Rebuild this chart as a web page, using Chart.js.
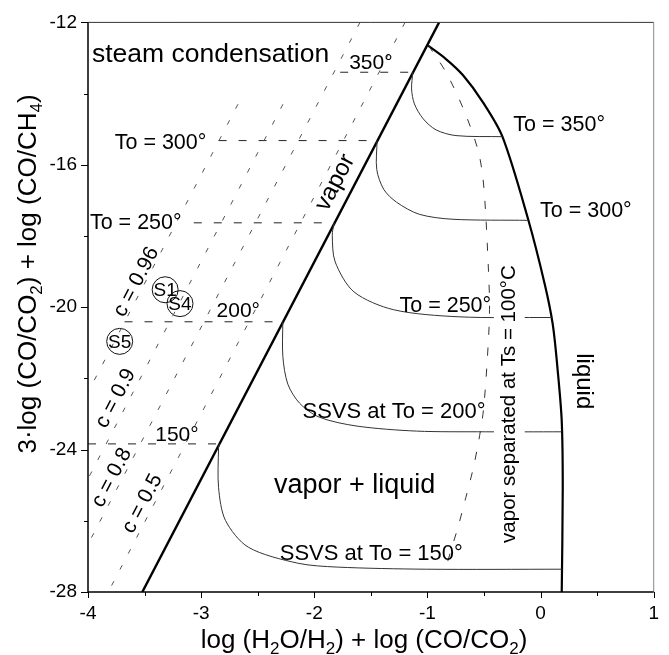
<!DOCTYPE html>
<html>
<head>
<meta charset="utf-8">
<script src="https://cdn.jsdelivr.net/npm/chart.js@4.4.1/dist/chart.umd.min.js"></script>
<style>
  html, body { margin: 0; padding: 0; background: #fff; }
  #wrap { width: 669px; height: 655px; }
</style>
</head>
<body>
<div id="wrap"><canvas id="phaseChart" width="669" height="655"></canvas></div>
<script>
const FONT = '"Liberation Sans", Arial, Helvetica, sans-serif';

// labelled ticks
const xTicks = [-4, -3, -2, -1, 0, 1];
const yTicks = [-28, -24, -20, -16, -12];

// vapor boundary (straight)
const vaporX = [-3.52, -0.897];
const vaporY = [-28, -12];

// liquid boundary, critical point down to the axis
const liquidX = [-1.0, -0.836, -0.687, -0.512, -0.337, -0.110, 0.038, 0.108, 0.152, 0.187, 0.196, 0.187];
const liquidY = [-12.64, -13.03, -13.48, -14.23, -15.21, -17.53, -19.37, -20.49, -21.80, -23.20, -25.07, -28];

// To isotherms in the steam condensation field
const isoTemps = [350, 300, 250, 200, 150];
const isoY = [-13.40, -15.32, -17.63, -20.41, -23.84];
const isoStartX = [-1.771, -2.846, -3.065, -3.677, -4];
const isoEndX = [-1.129, -1.445, -1.825, -2.278, -2.839];

// SSVS curves
const ssvs350X = [-1.129, -1.14, -1.115, -1.037, -0.923, -0.748, -0.337];
const ssvs350Y = [-13.40, -13.87, -14.29, -14.71, -15.02, -15.18, -15.21];
const ssvs300X = [-1.445, -1.448, -1.386, -1.273, -1.072, -0.774, -0.110];
const ssvs300Y = [-15.32, -16.13, -16.69, -17.05, -17.39, -17.53, -17.56];
const ssvs250X = [-1.825, -1.841, -1.815, -1.649, -1.30, -0.722, 0.10];
const ssvs250Y = [-17.63, -17.98, -18.73, -19.57, -20.07, -20.27, -20.29];
const ssvs200X = [-2.278, -2.278, -2.234, -2.129, -1.955, -1.622, -1.098, -0.486, 0.187];
const ssvs200Y = [-20.41, -21.38, -22.16, -22.70, -23.09, -23.34, -23.48, -23.50, -23.50];
const ssvs150X = [-2.839, -2.846, -2.846, -2.785, -2.584, -2.147, -1.797, -1.01, 0.187];
const ssvs150Y = [-23.84, -23.95, -25.07, -25.99, -26.74, -27.19, -27.30, -27.36, -27.36];

// vapor separated at Ts = 100 C
const sepX = [-0.993, -0.836, -0.678, -0.556, -0.512, -0.486, -0.460, -0.451, -0.460, -0.503, -0.547, -0.600, -0.661, -0.731, -0.818, -0.836];
const sepY = [-12.64, -13.40, -14.46, -15.55, -16.30, -17.33, -19.01, -19.93, -20.88, -22.83, -23.76, -24.59, -25.35, -26.19, -27.11, -27.36];

// lines of constant c
const cValues = [0.5, 0.8, 0.9, 0.96];
const cTopX = [-1.198, -1.596, -2.277, -2.675];
const cTopY = [-12, -12, -14.3, -14.3];
const cBotX = [-3.821, -4, -4, -4];
const cBotY = [-28, -26.66, -24.82, -22.39];

// samples
const sampleNames = ['S1', 'S4', 'S5'];
const sampleX = [-3.318, -3.187, -3.72];
const sampleY = [-19.51, -19.90, -20.96];

function pts(xs, ys) {
    return xs.map((v, i) => ({ x: v, y: ys[i] }));
}

function line(data, opts) {
    return Object.assign({
        data: data,
        showLine: true,
        pointRadius: 0,
        borderColor: '#222',
        borderWidth: 1,
        tension: 0,
        fill: false
    }, opts);
}

const datasets = [];

cValues.forEach((c, i) => {
    datasets.push(line(pts([cTopX[i], cBotX[i]], [cTopY[i], cBotY[i]]), {
        borderColor: '#555', borderDash: [5, 13]
    }));
});

isoTemps.forEach((t, i) => {
    datasets.push(line(pts([isoStartX[i], isoEndX[i]], [isoY[i], isoY[i]]), {
        borderColor: '#222', borderDash: [8, 12]
    }));
});

[[ssvs350X, ssvs350Y], [ssvs300X, ssvs300Y], [ssvs250X, ssvs250Y],
 [ssvs200X, ssvs200Y], [ssvs150X, ssvs150Y]].forEach(([xs, ys]) => {
    datasets.push(line(pts(xs, ys), { borderColor: '#333', tension: 0.3 }));
});

datasets.push(line(pts(sepX, sepY), { borderColor: '#333', borderDash: [8, 13], tension: 0.3 }));
datasets.push(line(pts(vaporX, vaporY), { borderColor: '#000', borderWidth: 2.4 }));
datasets.push(line(pts(liquidX, liquidY), { borderColor: '#000', borderWidth: 2.2, tension: 0.3 }));

datasets.push({
    data: pts(sampleX, sampleY),
    showLine: false,
    pointStyle: 'circle',
    pointRadius: 13,
    pointBorderWidth: 1,
    pointBorderColor: '#111',
    pointBackgroundColor: 'rgba(0,0,0,0)'
});

// text placed on the diagram (data coordinates)
const notes = [
    { text: 'steam condensation', x: -3.965, y: -13.12, size: 26.5 },
    { text: 'To = 300°', x: -3.764, y: -15.57, size: 21.5 },
    { text: 'To = 250°', x: -3.983, y: -17.81, size: 21.5 },
    { text: '350°', x: -1.692, y: -13.31, size: 21 },
    { text: '200°', x: -2.864, y: -20.27, size: 21 },
    { text: '150°', x: -3.406, y: -23.76, size: 21 },
    { text: 'To = 350°', x: -0.241, y: -15.04, size: 21.5 },
    { text: 'To = 300°', x: -0.005, y: -17.47, size: 21.5 },
    { text: 'To = 250°', x: -1.247, y: -20.13, size: 21.5 },
    { text: 'SSVS at To = 200°', x: -0.486, y: -23.11, size: 22, align: 'right' },
    { text: 'SSVS at To = 150°', x: -0.687, y: -27.11, size: 22, align: 'right' },
    { text: 'vapor + liquid', x: -2.357, y: -25.21, size: 27 },
    { text: 'vapor', x: -1.815, y: -16.5, size: 24, angle: -62.4, align: 'center', base: 'middle' },
    { text: 'liquid', x: 0.379, y: -22.08, size: 24, angle: 90, align: 'center', base: 'middle' },
    { text: 'c = 0.96', x: -3.572, y: -19.29, size: 21, angle: -62.4, align: 'center', base: 'middle' },
    { text: 'c = 0.9', x: -3.755, y: -22.56, size: 21, angle: -62.4, align: 'center', base: 'middle' },
    { text: 'c = 0.8', x: -3.79, y: -24.79, size: 21, angle: -62.4, align: 'center', base: 'middle' },
    { text: 'c = 0.5', x: -3.519, y: -25.52, size: 21, angle: -62.4, align: 'center', base: 'middle' },
    { text: 'vapor separated at Ts = 100°C', x: -0.276, y: -22.72, size: 20.5, angle: -90, align: 'center', base: 'middle', bg: true }
];

// draws text made of normal and subscript parts, centred on the origin
function drawRich(ctx, parts, size) {
    const sub = Math.round(size * 0.66);
    let total = 0;
    parts.forEach(p => {
        ctx.font = (p.sub ? sub : size) + 'px ' + FONT;
        p.w = ctx.measureText(p.t).width;
        total += p.w;
    });
    let cx = -total / 2;
    parts.forEach(p => {
        ctx.font = (p.sub ? sub : size) + 'px ' + FONT;
        ctx.fillText(p.t, cx, p.sub ? size * 0.22 : 0);
        cx += p.w;
    });
}

const xTitle = [
    { t: 'log (H' }, { t: '2', sub: true }, { t: 'O/H' }, { t: '2', sub: true },
    { t: ') + log (CO/CO' }, { t: '2', sub: true }, { t: ')' }
];
const yTitle = [
    { t: '3·log (CO/CO' }, { t: '2', sub: true }, { t: ') + log (CO/CH' },
    { t: '4', sub: true }, { t: ')' }
];

const diagramPlugin = {
    id: 'diagram',
    afterDatasetsDraw(chart) {
        const { ctx, chartArea: a, scales: { x, y } } = chart;
        ctx.save();

        // frame
        ctx.strokeStyle = '#333';
        ctx.lineWidth = 1;
        ctx.beginPath();
        ctx.moveTo(a.left, a.top); ctx.lineTo(a.right, a.top);
        ctx.stroke();
        ctx.strokeStyle = '#888';
        ctx.beginPath();
        ctx.moveTo(a.right, a.top); ctx.lineTo(a.right, a.bottom);
        ctx.stroke();
        ctx.strokeStyle = '#000';
        ctx.lineWidth = 1.5;
        ctx.beginPath();
        ctx.moveTo(a.left, a.top); ctx.lineTo(a.left, a.bottom); ctx.lineTo(a.right, a.bottom);
        ctx.stroke();

        // tick marks, minor ones shorter
        ctx.lineWidth = 1;
        ctx.beginPath();
        for (let v = -4; v <= 1.001; v += 0.5) {
            const px = Math.round(x.getPixelForValue(v)) + 0.5;
            const len = Number.isInteger(v) ? 6 : 4;
            ctx.moveTo(px, a.bottom); ctx.lineTo(px, a.bottom + len);
        }
        for (let v = -28; v <= -11.999; v += 2) {
            const py = Math.round(y.getPixelForValue(v)) + 0.5;
            const len = v % 4 === 0 ? 7 : 4;
            ctx.moveTo(a.left, py); ctx.lineTo(a.left - len, py);
        }
        ctx.stroke();

        // annotations
        ctx.fillStyle = '#000';
        notes.forEach(n => {
            const px = x.getPixelForValue(n.x);
            const py = y.getPixelForValue(n.y);
            ctx.save();
            ctx.translate(px, py);
            if (n.angle) ctx.rotate(n.angle * Math.PI / 180);
            ctx.font = n.size + 'px ' + FONT;
            ctx.textAlign = n.align || 'left';
            ctx.textBaseline = n.base || 'alphabetic';
            if (n.bg) {
                const w = ctx.measureText(n.text).width;
                ctx.fillStyle = '#fff';
                ctx.fillRect(-w / 2 - 3, -n.size * 0.75, w + 6, n.size * 1.5);
                ctx.fillStyle = '#000';
            }
            ctx.fillText(n.text, 0, 0);
            ctx.restore();
        });

        // sample names inside their circles
        ctx.font = '19px ' + FONT;
        ctx.textAlign = 'center';
        ctx.textBaseline = 'middle';
        sampleNames.forEach((s, i) => {
            ctx.fillText(s, x.getPixelForValue(sampleX[i]), y.getPixelForValue(sampleY[i]) + 1);
        });

        // axis titles
        ctx.textAlign = 'left';
        ctx.textBaseline = 'alphabetic';
        ctx.save();
        ctx.translate(364, 648);
        drawRich(ctx, xTitle, 26);
        ctx.restore();
        ctx.save();
        ctx.translate(36, 274);
        ctx.rotate(-Math.PI / 2);
        drawRich(ctx, yTitle, 26);
        ctx.restore();

        ctx.restore();
    }
};

new Chart(document.getElementById('phaseChart'), {
    type: 'scatter',
    data: { datasets: datasets },
    options: {
        responsive: false,
        animation: false,
        devicePixelRatio: 1,
        layout: { padding: { top: 19, right: 9, left: 0, bottom: 0 } },
        plugins: {
            legend: { display: false },
            tooltip: { enabled: false }
        },
        scales: {
            x: {
                type: 'linear',
                min: -4,
                max: 1,
                afterFit: (s) => { s.height = 63; },
                afterBuildTicks: (s) => { s.ticks = xTicks.map(v => ({ value: v })); },
                ticks: {
                    padding: 10,
                    color: '#000',
                    maxRotation: 0,
                    autoSkip: false,
                    font: { family: FONT, size: 19 },
                    callback: (v) => String(v)
                },
                grid: { display: false, drawTicks: false },
                border: { display: false }
            },
            y: {
                type: 'linear',
                min: -28,
                max: -12,
                afterFit: (s) => { s.width = 88; },
                afterBuildTicks: (s) => { s.ticks = yTicks.map(v => ({ value: v })); },
                ticks: {
                    padding: 11,
                    color: '#000',
                    autoSkip: false,
                    font: { family: FONT, size: 19 },
                    callback: (v) => String(v)
                },
                grid: { display: false, drawTicks: false },
                border: { display: false }
            }
        }
    },
    plugins: [diagramPlugin]
});
</script>
</body>
</html>
